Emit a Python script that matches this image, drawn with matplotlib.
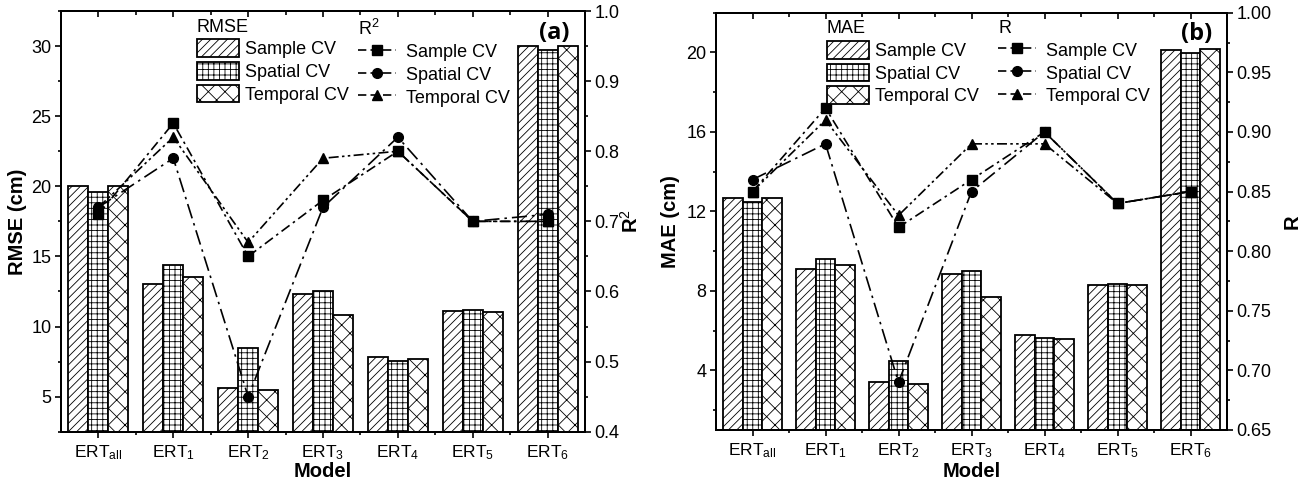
import numpy as np
import matplotlib
matplotlib.use('Agg')
import matplotlib.pyplot as plt
from matplotlib.lines import Line2D

plt.rcParams['font.family'] = ['Liberation Sans', 'DejaVu Sans']
plt.rcParams['mathtext.fontset'] = 'custom'
plt.rcParams['mathtext.rm'] = 'Liberation Sans'
plt.rcParams['mathtext.it'] = 'Liberation Sans:italic'
plt.rcParams['mathtext.bf'] = 'Liberation Sans:bold'
plt.rcParams['hatch.linewidth'] = 0.6
plt.rcParams['hatch.color'] = '#333333'

# Data
models = ['all', '1', '2', '3', '4', '5', '6']
cv_names = ['Sample CV', 'Spatial CV', 'Temporal CV']

rmse_sample = [20.0, 13.0, 5.6, 12.3, 7.8, 11.1, 30.0]
rmse_spatial = [19.6, 14.4, 8.5, 12.5, 7.55, 11.2, 29.7]
rmse_temporal = [20.0, 13.5, 5.5, 10.8, 7.7, 11.05, 30.0]
r2_sample = [0.71, 0.84, 0.65, 0.73, 0.80, 0.70, 0.70]
r2_spatial = [0.72, 0.79, 0.45, 0.72, 0.82, 0.70, 0.71]
r2_temporal = [0.72, 0.82, 0.67, 0.79, 0.80, 0.70, 0.70]

mae_sample = [12.7, 9.1, 3.4, 8.85, 5.8, 8.3, 20.1]
mae_spatial = [12.45, 9.6, 4.45, 9.0, 5.65, 8.35, 19.95]
mae_temporal = [12.7, 9.3, 3.3, 7.7, 5.6, 8.3, 20.15]
r_sample = [0.85, 0.92, 0.82, 0.86, 0.90, 0.84, 0.85]
r_spatial = [0.86, 0.89, 0.69, 0.85, 0.90, 0.84, 0.85]
r_temporal = [0.85, 0.91, 0.83, 0.89, 0.89, 0.84, 0.85]

hatches = ['////', '+++', 'xx']
markers = ['s', 'o', '^']
dashes = [(6, 2.5, 1.5, 2.5), (9, 3, 1.5, 3), (6, 2, 1.5, 2, 1.5, 2)]

fig = plt.figure(figsize=(13.03, 4.84), dpi=100)


def draw_panel(rect, bars, lines, ylim, yticks, yminor, rlim, rticks, rminor, rfmt,
               ylabel, rlabel, bar_title, line_title, tag, leg_x, leg_y, xlab_y, ylab_x, rlab_x):
    ax = fig.add_axes(rect)
    x = np.arange(len(models))
    w = 0.267
    bar_handles = []
    for i, vals in enumerate(bars):
        b = ax.bar(x + (i - 1) * w, vals, w, facecolor='white', edgecolor='black',
                   linewidth=1.3, hatch=hatches[i], label=cv_names[i])
        bar_handles.append(b)
    ax.set_xlim(-0.5, 6.5)
    ax.set_ylim(*ylim)
    ax.set_yticks(yticks)
    ax.set_yticks(yminor, minor=True)
    ax.set_xticks(x)
    ax.set_xticks(x[:-1] + 0.5, minor=True)
    ax.set_xticklabels([r'ERT$_{\mathrm{%s}}$' % m for m in models], fontsize=12.5)
    ax.tick_params(axis='y', which='major', direction='out', length=4, width=1.2, labelsize=13, pad=3)
    ax.tick_params(axis='y', which='minor', direction='out', length=2.5, width=1.2)
    ax.tick_params(axis='x', which='major', direction='out', length=4, width=1.2, pad=4)
    ax.tick_params(axis='x', which='minor', direction='out', length=2.5, width=1.2)
    for s in ax.spines.values():
        s.set_linewidth(1.4)
    ax.set_xlabel('Model', fontsize=14.5, fontweight='bold')
    ax.xaxis.set_label_coords(0.5, xlab_y)
    ax.set_ylabel(ylabel, fontsize=14.5, fontweight='bold')
    ax.yaxis.set_label_coords(ylab_x, 0.5)

    # mirrored ticks on top, pointing inward
    top = ax.secondary_xaxis('top')
    top.set_xticks(x, labels=[''] * len(x))
    top.set_xticks(x[:-1] + 0.5, minor=True)
    top.tick_params(axis='x', which='major', direction='in', length=4, width=1.2)
    top.tick_params(axis='x', which='minor', direction='in', length=3, width=1.2)
    top.spines['top'].set_linewidth(1.4)

    ax2 = ax.twinx()
    line_handles = []
    for i, vals in enumerate(lines):
        ln, = ax2.plot(x, vals, color='black', linewidth=1.2, marker=markers[i],
                       markersize=7, dashes=dashes[i], label=cv_names[i])
        line_handles.append(ln)
    ax2.set_ylim(*rlim)
    ax2.set_yticks(rticks)
    ax2.set_yticklabels([rfmt % t for t in rticks])
    ax2.set_yticks(rminor, minor=True)
    ax2.tick_params(axis='y', which='major', direction='out', length=4, width=1.2, labelsize=13, pad=3)
    ax2.tick_params(axis='y', which='minor', direction='out', length=2.5, width=1.2)
    ax2.set_ylabel(rlabel, fontsize=14.5, fontweight='bold')
    ax2.yaxis.set_label_coords(rlab_x, 0.5)
    for s in ax2.spines.values():
        s.set_linewidth(1.4)

    leg_kw = dict(loc='upper left', frameon=False, fontsize=13, title_fontsize=13,
                  alignment='left', borderpad=0, borderaxespad=0, handleheight=1.15,
                  labelspacing=0.2)
    leg1 = ax2.legend(bar_handles, cv_names, title=bar_title, bbox_to_anchor=(leg_x[0], leg_y),
                      handlelength=2.35, handletextpad=0.3, **leg_kw)
    ax2.add_artist(leg1)
    lh = [Line2D([], [], color='black', linewidth=1.2, marker=markers[i], markersize=7,
                 dashes=(5, 2.5)) for i in range(3)]
    ax2.legend(lh, cv_names, title=line_title, bbox_to_anchor=(leg_x[1], leg_y),
               handlelength=2.1, handletextpad=0.55, **leg_kw)
    ax2.text(0.941, 0.948, tag, transform=ax2.transAxes, ha='center', va='center',
             fontsize=17, fontweight='bold', family=['Open Sans', 'DejaVu Sans'])
    return ax, ax2


# Panel (a)
ax_a, ax_a2 = draw_panel(
    [61 / 1303, 1 - 431.7 / 484, 524 / 1303, 420.7 / 484],
    [rmse_sample, rmse_spatial, rmse_temporal],
    [r2_sample, r2_spatial, r2_temporal],
    (2.5, 32.5), [5, 10, 15, 20, 25, 30], [2.5, 7.5, 12.5, 17.5, 22.5, 27.5, 32.5],
    (0.4, 1.0), [0.4, 0.5, 0.6, 0.7, 0.8, 0.9, 1.0], [0.45, 0.55, 0.65, 0.75, 0.85, 0.95], '%.1f',
    'RMSE (cm)', r'R$^2$', 'RMSE', r'R$^2$', '(a)',
    (0.2595, 0.567), 0.982, -0.072, -0.064, 1.067)

# Panel (b)
ax_b, ax_b2 = draw_panel(
    [716 / 1303, 1 - 430 / 484, 511 / 1303, 417.3 / 484],
    [mae_sample, mae_spatial, mae_temporal],
    [r_sample, r_spatial, r_temporal],
    (1, 22), [4, 8, 12, 16, 20], [2, 6, 10, 14, 18, 22],
    (0.65, 1.0), [0.65, 0.70, 0.75, 0.80, 0.85, 0.90, 0.95, 1.00],
    [0.675, 0.725, 0.775, 0.825, 0.875, 0.925, 0.975], '%.2f',
    'MAE (cm)', 'R', 'MAE', 'R', '(b)',
    (0.217, 0.552), 0.982, -0.077, -0.070, 1.108)

fig.savefig('out.png', dpi=100)
